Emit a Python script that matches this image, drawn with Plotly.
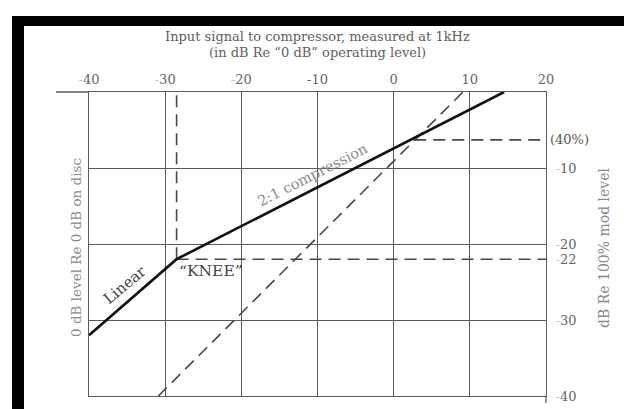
import plotly.graph_objects as go

# ---- data ----
input_db = [-40, -28.5, 14.5]          # compressor transfer curve, input level (dB)
output_db = [-32, -22, 0]              # output level (dB Re 100% mod)
unity_in = [-30.9, 9.1]                # 1:1 reference (dashed)
unity_out = [-40, 0]
knee_in, knee_out = -28.5, -22
ref40_in, ref40_out = 2.7, -6.3        # 40% modulation reference

FAINT = "<span style='color:#c8c8c8'>-</span>"
x_ticks = [-40, -30, -20, -10, 0, 10, 20]
x_ticktext = [FAINT + "40", FAINT + "30", FAINT + "20", "-10", "0", "10", "20"]
y_ticks = [-10, -20, -22, -30, -40]
y_ticktext = [FAINT + "10", FAINT + "20", FAINT + "22", FAINT + "30", FAINT + "40"]

FONT = "DejaVu Serif"
GRID = "#5a5a5a"
DASH = "#474747"
L, R, T, B = 81, 538, 84, 388
W, H = 632, 409
pw, ph = R - L, B - T


def px(xp):
    return (xp - L) / pw


def py(yp):
    return (B - yp) / ph


dash_line = dict(color=DASH, width=1.6, dash="12px,7px")
fig = go.Figure()

# dashed reference lines
fig.add_trace(go.Scatter(x=unity_in, y=unity_out, mode="lines", line=dash_line, hoverinfo="skip"))
fig.add_trace(go.Scatter(x=[knee_in, knee_in], y=[knee_out, 0], mode="lines", line=dash_line,
                         hoverinfo="skip"))
fig.add_trace(go.Scatter(x=[knee_in, 20], y=[knee_out, knee_out], mode="lines", line=dash_line,
                         hoverinfo="skip"))
fig.add_trace(go.Scatter(x=[ref40_in, 20], y=[ref40_out, ref40_out], mode="lines", line=dash_line,
                         hoverinfo="skip"))
# transfer curve
fig.add_trace(go.Scatter(x=input_db, y=output_db, mode="lines",
                         line=dict(color="#111", width=2.6), hoverinfo="skip"))
# invisible trace to activate the right axis
fig.add_trace(go.Scatter(x=[-40], y=[-40], yaxis="y2", mode="markers",
                         marker=dict(opacity=0), hoverinfo="skip"))

fig.update_layout(
    width=W, height=H,
    margin=dict(l=L, r=W - R, t=T, b=H - B),
    paper_bgcolor="white", plot_bgcolor="white",
    showlegend=False,
    font=dict(family=FONT, size=13, color="#666"),
    xaxis=dict(range=[-40, 20], side="top", tickvals=x_ticks, ticktext=x_ticktext,
               showgrid=True, gridcolor=GRID, gridwidth=1.3, zeroline=False,
               showline=True, linecolor=GRID, linewidth=1.3, mirror=True,
               ticks="outside", ticklen=2, tickcolor="rgba(0,0,0,0)",
               tickfont=dict(family=FONT, size=13, color="#666")),
    yaxis=dict(range=[-40, 0], tickvals=[-40, -30, -20, -10, 0], showticklabels=False,
               showgrid=True, gridcolor=GRID, gridwidth=1.3, zeroline=False,
               showline=True, linecolor=GRID, linewidth=1.3, mirror=True, ticks=""),
    yaxis2=dict(range=[-40, 0], overlaying="y", side="right", tickvals=y_ticks,
                ticktext=y_ticktext, showgrid=False, zeroline=False, showline=False,
                ticks="outside", ticklen=6, tickcolor="rgba(0,0,0,0)",
                tickfont=dict(family=FONT, size=13, color="#666")),
)

annos = [
    dict(text="Input signal to compressor, measured at 1kHz", x=0.5, y=py(28)),
    dict(text="(in dB Re \u201c0 dB\u201d operating level)", x=0.5, y=py(45)),
    dict(text="0 dB level Re 0 dB on disc", x=px(68), y=py(240), textangle=-90,
         font=dict(family=FONT, size=13.5, color="#8a8a8a")),
    dict(text="dB Re 100% mod level", x=px(596), y=py(240), textangle=-90,
         font=dict(family=FONT, size=14, color="#8a8a8a")),
]
for a in annos:
    a.setdefault("font", dict(family=FONT, size=13, color="#5e5e5e"))
    fig.add_annotation(xref="paper", yref="paper", showarrow=False,
                       xanchor="center", yanchor="middle", **a)

# (40%) marker at the right end of the 40 % reference line
fig.add_annotation(xref="paper", yref="y", x=px(540), y=ref40_out, text="(40%)",
                   xanchor="left", yanchor="middle", showarrow=False,
                   font=dict(family=FONT, size=13, color="#555"))

fig.add_annotation(x=-35.3, y=-25.4, text="Linear", textangle=-40, showarrow=False,
                   font=dict(family=FONT, size=15, color="#444"))
fig.add_annotation(x=-10.7, y=-10.9, text="2:1 compression", textangle=-27, showarrow=False,
                   font=dict(family=FONT, size=14.5, color="#8a8a8a"))
fig.add_annotation(x=-24, y=-23.5, text="\u201cKNEE\u201d", showarrow=False,
                   font=dict(family=FONT, size=15.5, color="#444"))

# extensions of axis lines and black scan frame
shapes = [
    dict(type="line", xref="paper", yref="paper", x0=px(48), x1=0, y0=1, y1=1,
         line=dict(color=GRID, width=1.3)),
    dict(type="line", xref="paper", yref="paper", x0=1, x1=1, y0=py(395), y1=0,
         line=dict(color=GRID, width=1.3)),
    dict(type="rect", xref="paper", yref="paper", x0=px(4), x1=px(632), y0=py(18), y1=py(8),
         fillcolor="black", line=dict(width=0)),
    dict(type="rect", xref="paper", yref="paper", x0=px(4), x1=px(16), y0=py(409), y1=py(8),
         fillcolor="black", line=dict(width=0)),
    dict(type="rect", xref="paper", yref="paper", x0=px(4), x1=px(632), y0=py(409), y1=py(403),
         fillcolor="black", line=dict(width=0)),
    dict(type="line", xref="paper", yref="paper", x0=px(630), x1=px(630), y0=py(403), y1=py(18),
         line=dict(color="#999", width=1)),
]
for s in shapes:
    fig.add_shape(**s)

fig.write_html("out.html")
